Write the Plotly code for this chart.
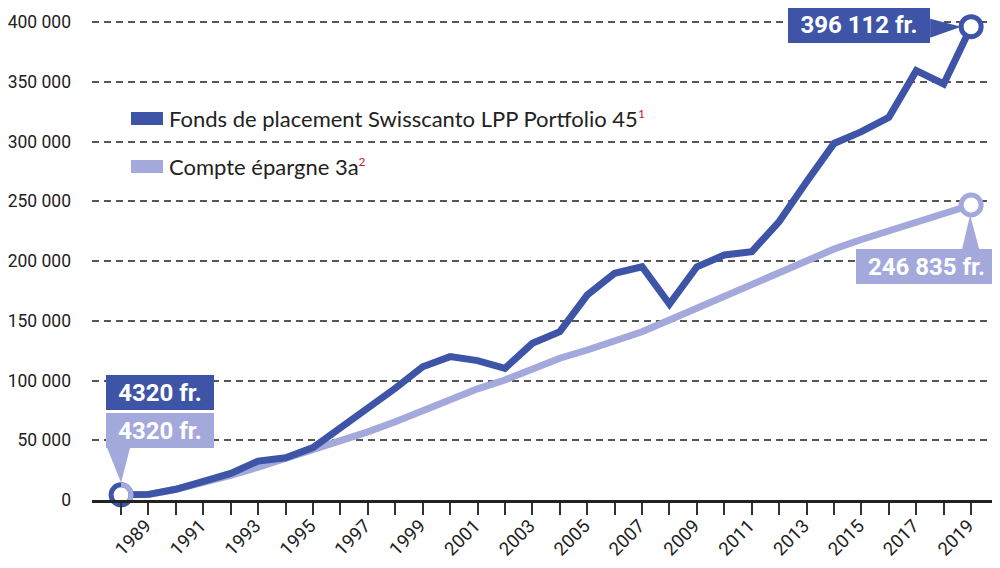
import plotly.graph_objects as go

# ---------------- data ----------------
# index 0 = start of 1989 (first deposit), index k = end of year 1988+k
positions = list(range(32))
fonds = [4320, 4700, 9000, 15300, 22300, 32600, 35400, 43800, 60000, 77600,
         93500, 111500, 120000, 116600, 110200, 131100, 140900, 171500, 189700, 195200,
         164000, 195200, 205000, 207800, 233000, 266400, 298400, 308200, 320200, 359300,
         348100, 396112]
epargne = [4320, 4500, 9000, 14500, 20500, 27500, 34500, 42000, 49000, 57000,
           65500, 74500, 83500, 93000, 100400, 110200, 118600, 125500, 132500, 140800,
           150600, 160400, 170100, 179900, 190200, 200500, 210000, 218000, 225500, 232500,
           239500, 246835]
year_labels = [str(y) for y in range(1989, 2020, 2)]
year_offsets = [y - 1989 for y in range(1989, 2020, 2)]
y_ticks = [0, 50000, 100000, 150000, 200000, 250000, 300000, 350000, 400000]
y_labels = ["0", "50 000", "100 000", "150 000", "200 000", "250 000", "300 000", "350 000", "400 000"]
series_names = ["Fonds de placement Swisscanto LPP Portfolio 45", "Compte épargne 3a"]

DARK = "#3E55A7"
LIGHT = "#A4A9DC"
RED = "#C8202E"
TXT = "#222222"
TICKFONT = "Roboto, Liberation Sans, sans-serif"
BOXFONT = "Roboto, Liberation Sans, sans-serif"
LEGFONT = "Lato, Noto Sans, sans-serif"

# page body has an 8px margin; the figure is sized to fill the rest of the window
OFF = 8
W, H = 1000 - OFF, 568 - OFF
L, R, T, B = 92 - OFF, 998 - OFF, 17 - OFF, 500 - OFF


def fr(v):
    s = f"{v:,}".replace(",", " ") if v >= 10000 else str(v)
    return s + " fr."


fig = go.Figure()
fig.add_trace(go.Scatter(x=positions, y=epargne, mode="lines", name=series_names[1],
                         line=dict(color=LIGHT, width=7), showlegend=False, hoverinfo="skip"))
fig.add_trace(go.Scatter(x=positions, y=fonds, mode="lines", name=series_names[0],
                         line=dict(color=DARK, width=7), showlegend=False, hoverinfo="skip"))
# end / start markers
fig.add_trace(go.Scatter(x=[positions[-1]], y=[epargne[-1]], mode="markers", cliponaxis=False,
                         marker=dict(size=20, color="white", line=dict(color=LIGHT, width=5)),
                         showlegend=False, hoverinfo="skip"))
fig.add_trace(go.Scatter(x=[positions[0], positions[-1]], y=[fonds[0], fonds[-1]], mode="markers",
                         cliponaxis=False,
                         marker=dict(size=20, color="white", line=dict(color=DARK, width=5)),
                         showlegend=False, hoverinfo="skip"))

shapes = []
annotations = []


def pix_path(xa, ya, pts, color):
    # pts in screen offsets (dx right, dy down) relative to the anchor point
    d = "M" + " L".join(f"{dx},{-dy}" for dx, dy in pts) + " Z"
    return dict(type="path", xref="x", yref="y", xsizemode="pixel", ysizemode="pixel",
                xanchor=xa, yanchor=ya, path=d, fillcolor=color, line=dict(width=0),
                layer="above")


def box(xa, ya, text, color, dx, dy, w, h):
    return dict(x=xa, y=ya, xref="x", yref="y", text=text, showarrow=False,
                xshift=dx, yshift=-dy, width=w, height=h, bgcolor=color,
                borderpad=0, borderwidth=0, xanchor="center", yanchor="middle",
                align="center", valign="middle",
                font=dict(family=BOXFONT, size=24, color="white", weight="bold"))


# right half of the start ring in the light colour
shapes.append(dict(type="path", xref="x", yref="y", xsizemode="pixel", ysizemode="pixel",
                   xanchor=positions[0], yanchor=epargne[0],
                   path="M0,10 C5.523,10 10,5.523 10,0 C10,-5.523 5.523,-10 0,-10",
                   line=dict(color=LIGHT, width=5), layer="above"))

# end label for fonds
shapes.append(pix_path(positions[-1], fonds[-1], [(-41, -8), (-10, 0), (-41, 11)], DARK))
annotations.append(box(positions[-1], fonds[-1], fr(fonds[-1]), DARK, -112, -2, 142, 36))
# end label for epargne
shapes.append(pix_path(positions[-1], epargne[-1], [(-9, 44), (-1, 10), (8, 44)], LIGHT))
annotations.append(box(positions[-1], epargne[-1], fr(epargne[-1]), LIGHT, -44.5, 61, 141, 35))
# start labels
shapes.append(pix_path(positions[0], fonds[0], [(-14, -47), (0, -12), (9, -47)], LIGHT))
annotations.append(box(positions[0], fonds[0], fr(fonds[0]), DARK, 39, -102.5, 108, 35))
annotations.append(box(positions[0], epargne[0], fr(epargne[0]), LIGHT, 39, -64.5, 108, 35))


# manual legend (positions given in window pixels)
def px(x):
    return (x - OFF - L) / (R - L)


def py(y):
    return (B - (y - OFF)) / (B - T)


for i, (col, ytop) in enumerate([(DARK, 112), (LIGHT, 160)]):
    shapes.append(dict(type="rect", xref="paper", yref="paper", x0=px(131), x1=px(163),
                       y0=py(ytop + 13), y1=py(ytop), fillcolor=col, line=dict(width=0)))
    annotations.append(dict(xref="paper", yref="paper", x=px(167), y=py(ytop + 6),
                            xanchor="left", yanchor="middle", showarrow=False,
                            text=f"{series_names[i]}<sup><span style='color:{RED};font-size:12px'>{i + 1}</span></sup>",
                            font=dict(family=LEGFONT, size=22, color=TXT)))

fig.update_layout(
    width=W, height=H,
    margin=dict(l=L, r=W - R, t=T, b=H - B, autoexpand=False),
    paper_bgcolor="white", plot_bgcolor="white",
    shapes=shapes, annotations=annotations,
    xaxis=dict(range=[-1.06, 31.98], showgrid=False, zeroline=False, automargin=False,
               showline=True, linecolor=TXT, linewidth=2.5,
               tickmode="array", tickvals=[o + 0.9 for o in year_offsets], ticktext=year_labels,
               ticks="", tickangle=-45, ticklabelstandoff=5,
               tickfont=dict(family=TICKFONT, size=18.5, color=TXT),
               minor=dict(tickmode="array", tickvals=positions, ticks="outside",
                          ticklen=12, tickwidth=2, tickcolor="#333333")),
    yaxis=dict(range=[0, 404184], tickmode="array", tickvals=y_ticks, ticktext=y_labels,
               showgrid=True, gridcolor="#555555", gridwidth=1.5, griddash="7px,5px",
               zeroline=False, showline=False, ticks="", ticklabelstandoff=20, automargin=False,
               tickfont=dict(family=TICKFONT, size=17.5, color=TXT)),
)

fig.write_html("out.html")
